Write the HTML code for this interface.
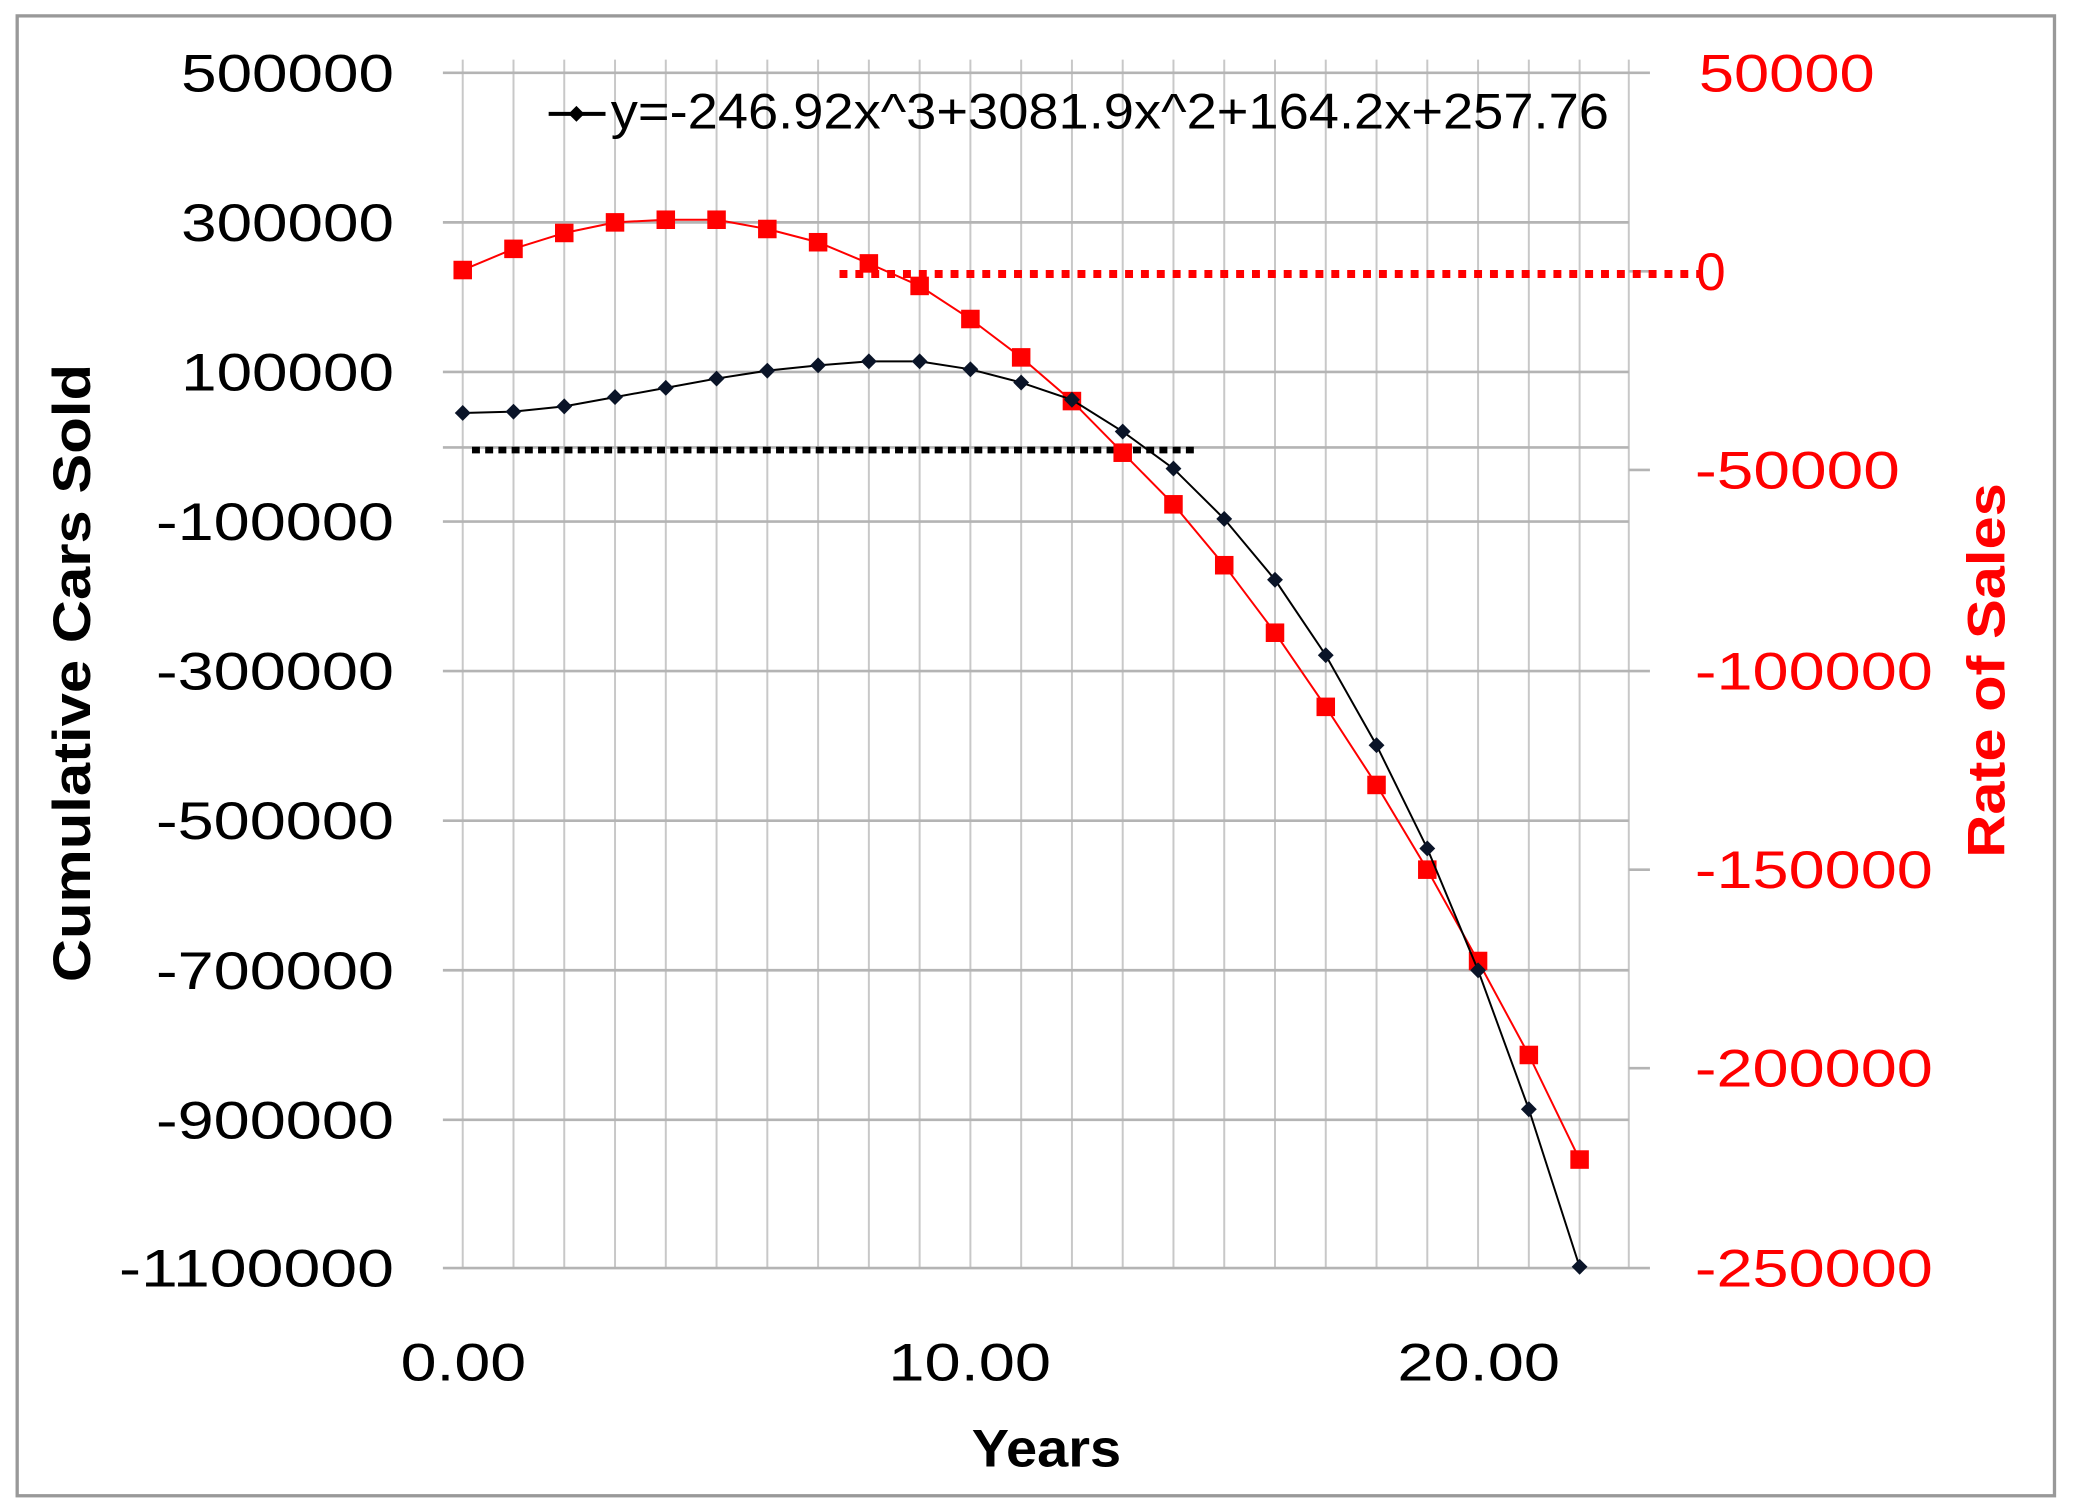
<!DOCTYPE html>
<html><head><style>html,body{margin:0;padding:0;background:#fff}svg{display:block}</style></head>
<body>
<svg width="2073" height="1509" viewBox="0 0 1568 1140" preserveAspectRatio="none" xmlns="http://www.w3.org/2000/svg" font-family="Liberation Sans, sans-serif">
<rect x="0" y="0" width="1568" height="1140" fill="#fff"/>
<rect x="13" y="12" width="1541" height="1118" fill="none" stroke="#999" stroke-width="2.5"/>
<g stroke="#c8c8c8" stroke-width="1.5">
<line x1="350" y1="45" x2="350" y2="958"/><line x1="388.4" y1="45" x2="388.4" y2="958"/><line x1="426.8" y1="45" x2="426.8" y2="958"/><line x1="465.2" y1="45" x2="465.2" y2="958"/><line x1="503.6" y1="45" x2="503.6" y2="958"/><line x1="542" y1="45" x2="542" y2="958"/><line x1="580.4" y1="45" x2="580.4" y2="958"/><line x1="618.8" y1="45" x2="618.8" y2="958"/><line x1="657.2" y1="45" x2="657.2" y2="958"/><line x1="695.6" y1="45" x2="695.6" y2="958"/><line x1="734" y1="45" x2="734" y2="958"/><line x1="772.4" y1="45" x2="772.4" y2="958"/><line x1="810.8" y1="45" x2="810.8" y2="958"/><line x1="849.2" y1="45" x2="849.2" y2="958"/><line x1="887.6" y1="45" x2="887.6" y2="958"/><line x1="926" y1="45" x2="926" y2="958"/><line x1="964.4" y1="45" x2="964.4" y2="958"/><line x1="1002.8" y1="45" x2="1002.8" y2="958"/><line x1="1041.2" y1="45" x2="1041.2" y2="958"/><line x1="1079.6" y1="45" x2="1079.6" y2="958"/><line x1="1118" y1="45" x2="1118" y2="958"/><line x1="1156.4" y1="45" x2="1156.4" y2="958"/><line x1="1194.8" y1="45" x2="1194.8" y2="958"/><line x1="1232" y1="45" x2="1232" y2="958"/>
</g>
<g stroke="#b4b4b4" stroke-width="2">
<line x1="335" y1="55" x2="1248" y2="55"/><line x1="335" y1="168" x2="1232" y2="168"/><line x1="335" y1="281" x2="1232" y2="281"/><line x1="335" y1="338" x2="1232" y2="338"/><line x1="335" y1="394" x2="1232" y2="394"/><line x1="335" y1="507" x2="1248" y2="507"/><line x1="335" y1="620" x2="1232" y2="620"/><line x1="335" y1="733" x2="1232" y2="733"/><line x1="335" y1="846" x2="1232" y2="846"/><line x1="335" y1="958" x2="1248" y2="958"/>
<line x1="1232" y1="205" x2="1248" y2="205"/><line x1="1232" y1="355" x2="1248" y2="355"/><line x1="1232" y1="657" x2="1248" y2="657"/><line x1="1232" y1="807" x2="1248" y2="807"/>
</g>
<line x1="635" y1="207" x2="1285" y2="207" stroke="#f00" stroke-width="6" stroke-dasharray="6,6"/>
<line x1="357" y1="340" x2="903" y2="340" stroke="#000" stroke-width="5" stroke-dasharray="6,4"/>
<polyline fill="none" stroke="#f00" stroke-width="1.5" points="350,204 388.4,188 426.8,176 465.2,168 503.6,166 542,166 580.4,173 618.8,183 657.2,199 695.6,216 734,241 772.4,270 810.8,303 849.2,342 887.6,381 926,427 964.4,478 1002.8,534 1041.2,593 1079.6,657 1118,726 1156.4,797 1194.8,876"/>
<g fill="#f00">
<rect x="343" y="197" width="14" height="14"/><rect x="381.4" y="181" width="14" height="14"/><rect x="419.8" y="169" width="14" height="14"/><rect x="458.2" y="161" width="14" height="14"/><rect x="496.6" y="159" width="14" height="14"/><rect x="535" y="159" width="14" height="14"/><rect x="573.4" y="166" width="14" height="14"/><rect x="611.8" y="176" width="14" height="14"/><rect x="650.2" y="192" width="14" height="14"/><rect x="688.6" y="209" width="14" height="14"/><rect x="727" y="234" width="14" height="14"/><rect x="765.4" y="263" width="14" height="14"/><rect x="803.8" y="296" width="14" height="14"/><rect x="842.2" y="335" width="14" height="14"/><rect x="880.6" y="374" width="14" height="14"/><rect x="919" y="420" width="14" height="14"/><rect x="957.4" y="471" width="14" height="14"/><rect x="995.8" y="527" width="14" height="14"/><rect x="1034.2" y="586" width="14" height="14"/><rect x="1072.6" y="650" width="14" height="14"/><rect x="1111" y="719" width="14" height="14"/><rect x="1149.4" y="790" width="14" height="14"/><rect x="1187.8" y="869" width="14" height="14"/>
</g>
<polyline fill="none" stroke="#000" stroke-width="1.5" points="350,312 388.4,311 426.8,307 465.2,300 503.6,293 542,286 580.4,280 618.8,276 657.2,273 695.6,273 734,279 772.4,289 810.8,302 849.2,326 887.6,354 926,392 964.4,438 1002.8,495 1041.2,563 1079.6,641 1118,733 1156.4,838 1194.8,957"/>
<g fill="#0a1428">
<path d="M350,306 l6,6 -6,6 -6,-6z"/><path d="M388.4,305 l6,6 -6,6 -6,-6z"/><path d="M426.8,301 l6,6 -6,6 -6,-6z"/><path d="M465.2,294 l6,6 -6,6 -6,-6z"/><path d="M503.6,287 l6,6 -6,6 -6,-6z"/><path d="M542,280 l6,6 -6,6 -6,-6z"/><path d="M580.4,274 l6,6 -6,6 -6,-6z"/><path d="M618.8,270 l6,6 -6,6 -6,-6z"/><path d="M657.2,267 l6,6 -6,6 -6,-6z"/><path d="M695.6,267 l6,6 -6,6 -6,-6z"/><path d="M734,273 l6,6 -6,6 -6,-6z"/><path d="M772.4,283 l6,6 -6,6 -6,-6z"/><path d="M810.8,296 l6,6 -6,6 -6,-6z"/><path d="M849.2,320 l6,6 -6,6 -6,-6z"/><path d="M887.6,348 l6,6 -6,6 -6,-6z"/><path d="M926,386 l6,6 -6,6 -6,-6z"/><path d="M964.4,432 l6,6 -6,6 -6,-6z"/><path d="M1002.8,489 l6,6 -6,6 -6,-6z"/><path d="M1041.2,557 l6,6 -6,6 -6,-6z"/><path d="M1079.6,635 l6,6 -6,6 -6,-6z"/><path d="M1118,727 l6,6 -6,6 -6,-6z"/><path d="M1156.4,832 l6,6 -6,6 -6,-6z"/><path d="M1194.8,951 l6,6 -6,6 -6,-6z"/>
</g>
<line x1="415" y1="86" x2="458" y2="86" stroke="#000" stroke-width="3"/>
<path d="M436,80 l6,6 -6,6 -6,-6z" fill="#000"/>
<text x="462" y="97" font-size="38" textLength="755" lengthAdjust="spacingAndGlyphs">y=-246.92x^3+3081.9x^2+164.2x+257.76</text>
<g font-size="40" text-anchor="end" fill="#000">
<text x="298" y="69" textLength="161" lengthAdjust="spacingAndGlyphs">500000</text>
<text x="298" y="182" textLength="161" lengthAdjust="spacingAndGlyphs">300000</text>
<text x="298" y="295" textLength="161" lengthAdjust="spacingAndGlyphs">100000</text>
<text x="298" y="408" textLength="180" lengthAdjust="spacingAndGlyphs">-100000</text>
<text x="298" y="521" textLength="180" lengthAdjust="spacingAndGlyphs">-300000</text>
<text x="298" y="634" textLength="180" lengthAdjust="spacingAndGlyphs">-500000</text>
<text x="298" y="747" textLength="180" lengthAdjust="spacingAndGlyphs">-700000</text>
<text x="298" y="860" textLength="180" lengthAdjust="spacingAndGlyphs">-900000</text>
<text x="298" y="972" textLength="208" lengthAdjust="spacingAndGlyphs">-1100000</text>
</g>
<g font-size="40" fill="#f00">
<text x="1285" y="69" textLength="133" lengthAdjust="spacingAndGlyphs">50000</text>
<text x="1283" y="219">0</text>
<text x="1282" y="369" textLength="155" lengthAdjust="spacingAndGlyphs">-50000</text>
<text x="1282" y="521" textLength="180" lengthAdjust="spacingAndGlyphs">-100000</text>
<text x="1282" y="671" textLength="180" lengthAdjust="spacingAndGlyphs">-150000</text>
<text x="1282" y="821" textLength="180" lengthAdjust="spacingAndGlyphs">-200000</text>
<text x="1282" y="972" textLength="180" lengthAdjust="spacingAndGlyphs">-250000</text>
</g>
<g font-size="40" fill="#000">
<text x="303" y="1043" textLength="95" lengthAdjust="spacingAndGlyphs">0.00</text>
<text x="672" y="1043" textLength="123" lengthAdjust="spacingAndGlyphs">10.00</text>
<text x="1057" y="1043" textLength="123" lengthAdjust="spacingAndGlyphs">20.00</text>
</g>
<text x="735" y="1108" font-size="40" font-weight="bold" textLength="113" lengthAdjust="spacingAndGlyphs">Years</text>
<text transform="translate(68,742) rotate(-90)" font-size="40" font-weight="bold" textLength="467" lengthAdjust="spacingAndGlyphs">Cumulative Cars Sold</text>
<text transform="translate(1516,648) rotate(-90)" font-size="40" font-weight="bold" fill="#f00" textLength="283" lengthAdjust="spacingAndGlyphs">Rate of Sales</text>
</svg>
</body></html>
